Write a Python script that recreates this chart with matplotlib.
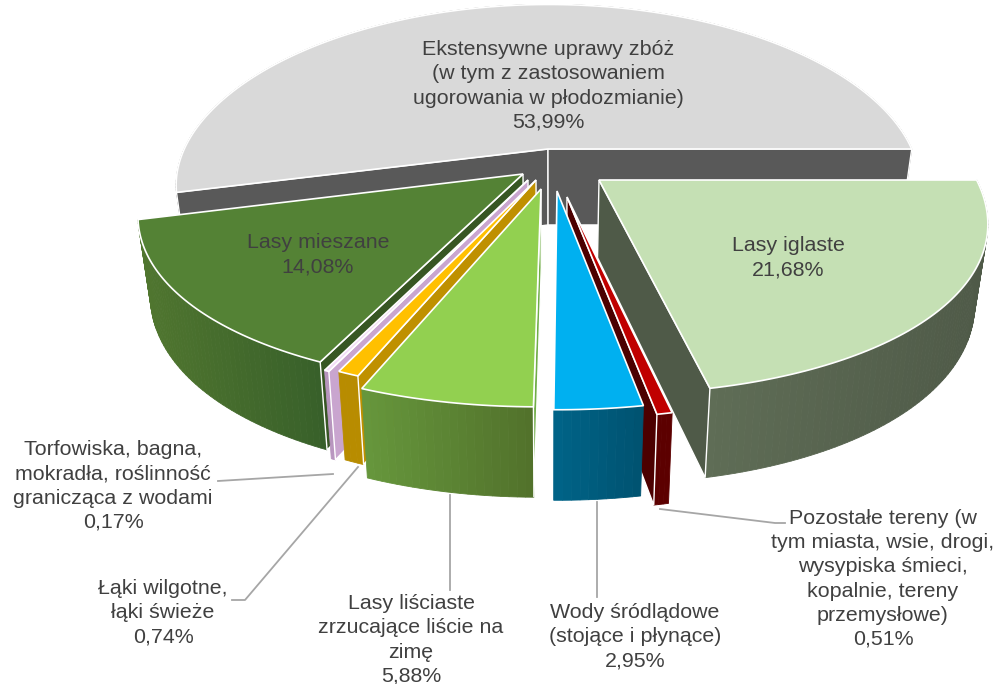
import numpy as np
import matplotlib
matplotlib.use("Agg")
import matplotlib.pyplot as plt
from matplotlib.colors import to_rgb

# ---- data (clockwise from east) ----
names = ["Lasy iglaste",
         "Pozostałe tereny (w\ntym miasta, wsie, drogi,\nwysypiska śmieci,\nkopalnie, tereny\nprzemysłowe)",
         "Wody śródlądowe\n(stojące i płynące)",
         "Lasy liściaste\nzrzucające liście na\nzimę",
         "Łąki wilgotne,\nłąki świeże",
         "Torfowiska, bagna,\nmokradła, roślinność\ngranicząca z wodami",
         "Lasy mieszane",
         "Ekstensywne uprawy zbóż\n(w tym z zastosowaniem\nugorowania w płodozmianie)"]
values = [21.68, 0.51, 2.95, 5.88, 0.74, 0.17, 14.08, 53.99]

# ---- styles ----
top_colors = ["#c5e0b4", "#c00000", "#00b0f0", "#92d050", "#ffc000", "#f3dcf7", "#548235", "#d9d9d9"]
wall_left = ["#5f6d56", "#5c0000", "#006488", "#66973c", "#b88c00", "#b996c0", "#50762f", "#595959"]
wall_right = ["#4f5a48", "#5c0000", "#005270", "#52712b", "#b88c00", "#b996c0", "#38602a", "#595959"]
cut_colors = ["#4f5a48", "#4c0000", "#005270", "#70ad47", "#bf9000", "#c9a5cf", "#375623", "#595959"]
# exploded apex of every slice, in pixels
apex_px = [(599, 180), (567, 197), (557, 191), (541, 189), (536, 180), (528, 180), (523, 174), (548, 149)]
draw_order = [7, 6, 0, 5, 4, 1, 3, 2]

X0, Y0, A, K, P, PX = 553.0, 167.5, 372.0, 174.0, 0.165, 0.21
VPX, SHRINK = 550.0, 0.97
TEXT = "#404040"
FONT = "Liberation Sans"
FS = 15.4


def project(u, v):
    return X0 + A * u / (1 + PX * v), Y0 - K * v / (1 + P * v)


def unproject(x, y):
    yy = Y0 - y
    v = yy / (K - P * yy)
    return (x - X0) * (1 + PX * v) / A, v


def lower(x, y):
    return VPX + (x - VPX) * SHRINK, y + 76 + 0.056 * (y - 150)


fig = plt.figure(figsize=(9.95, 6.84), dpi=100)
ax = fig.add_axes([0, 0, 1, 1])
ax.set_xlim(0, 995)
ax.set_ylim(684, 0)
ax.axis("off")

edges = np.concatenate([[0], np.cumsum(values)]) / np.sum(values) * 2 * np.pi
z = 2
for i in draw_order:
    a0, a1 = edges[i], edges[i + 1]
    uc, vc = unproject(*apex_px[i])
    th = np.linspace(a0, a1, max(4, int((a1 - a0) * 60)))
    ax_, ay_ = project(uc + np.cos(th), vc - np.sin(th))
    bx_, by_ = lower(ax_, ay_)
    # outer wall with a left-right gradient
    cl, cr = np.array(to_rgb(wall_left[i])), np.array(to_rgb(wall_right[i]))
    xmin, xmax = ax_.min(), ax_.max()
    for k in range(len(th) - 1):
        t = ((ax_[k] + ax_[k + 1]) / 2 - xmin) / max(xmax - xmin, 1)
        c = cl + (cr - cl) * t
        ax.fill([ax_[k], ax_[k + 1], bx_[k + 1], bx_[k]],
                [ay_[k], ay_[k + 1], by_[k + 1], by_[k]],
                facecolor=c, edgecolor=c, lw=0.6, zorder=z)
    z += 1
    # visible cut faces only
    px, py = apex_px[i]
    qx, qy = lower(px, py)
    for j, sgn in ((0, 1), (-1, -1)):
        ex, ey = (ax_[j] - px) * sgn, (ay_[j] - py) * sgn
        dx, dy = bx_[j] - ax_[j], by_[j] - ay_[j]
        if ex * dy - ey * dx < 0:
            ax.fill([px, ax_[j], bx_[j], qx], [py, ay_[j], by_[j], qy],
                    facecolor=cut_colors[i], edgecolor="white", lw=1.0, zorder=z)
            z += 1
    # top face
    ax.fill(np.r_[px, ax_], np.r_[py, ay_], facecolor=top_colors[i],
            edgecolor="white", lw=1.2, joinstyle="miter", zorder=z)
    z += 1

# ---- leader lines ----
leaders = [([660, 775, 785], [509, 523, 523]),
           ([597, 597], [502, 597]),
           ([450, 450], [495, 590]),
           ([358, 245, 232], [467, 600, 600]),
           ([333, 218], [474, 481])]
for lx, ly in leaders:
    ax.plot(lx, ly, color="#a6a6a6", lw=1.3, zorder=z, solid_joinstyle="round")
z += 1

# ---- labels ----
label_pos = [(788, 258), (883, 579), (635, 637), (411, 640), (163, 613), (113, 486), (318, 255), (548, 86)]
for name, val, (tx, ty) in zip(names, values, label_pos):
    s = f"{name}\n{val:.2f}%".replace(".", ",")
    ax.text(tx, ty, s, ha="center", va="center", color=TEXT, fontsize=FS,
            family=FONT, linespacing=1.34, zorder=z)

fig.savefig("out.png", dpi=100, facecolor="white")
